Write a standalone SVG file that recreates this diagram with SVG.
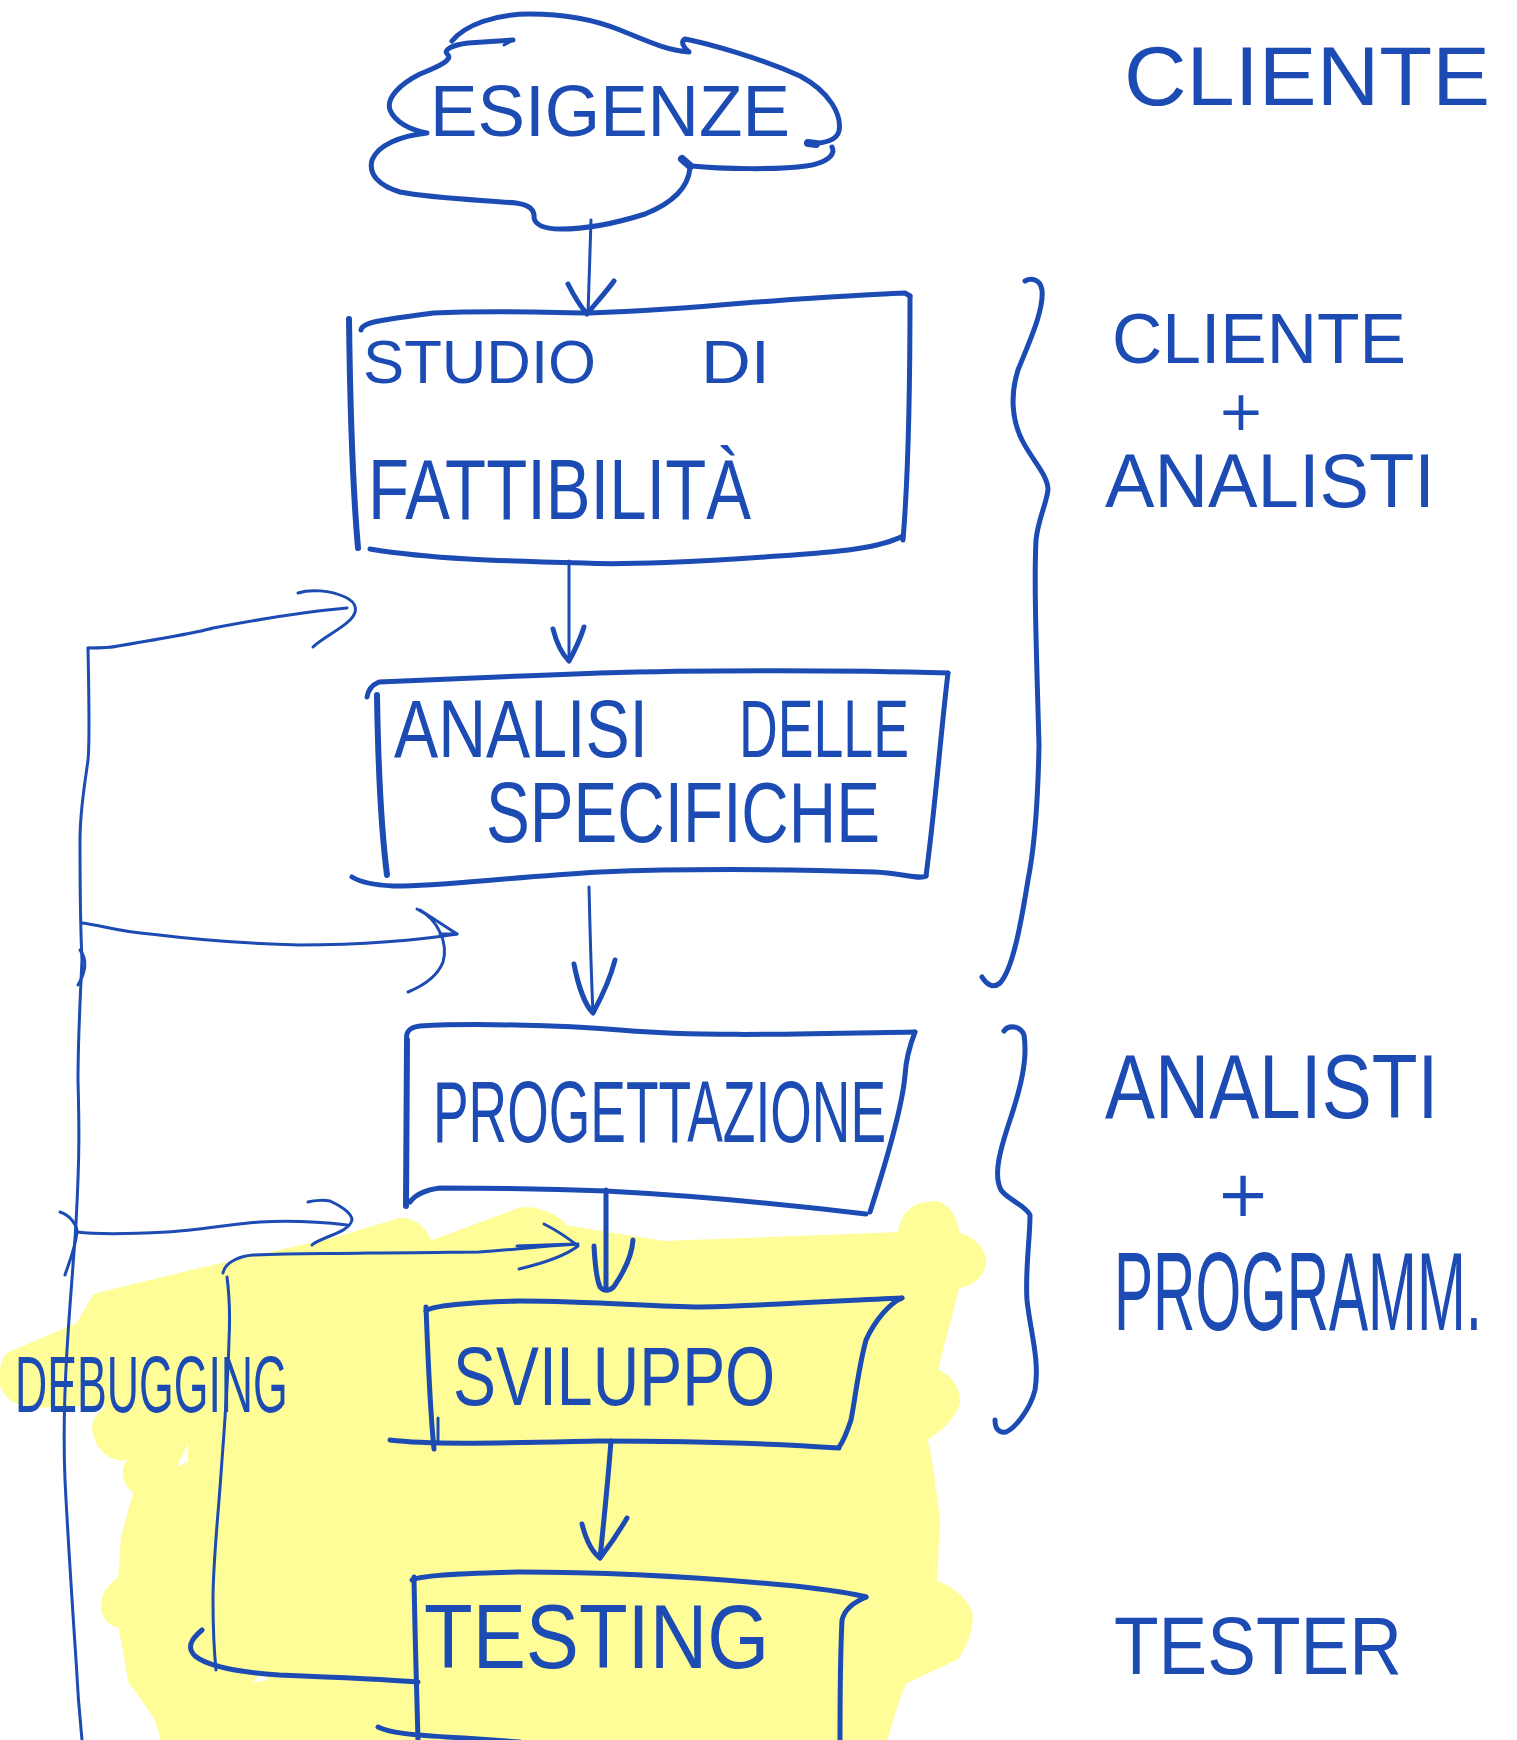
<svg xmlns="http://www.w3.org/2000/svg" width="1517" height="1740" viewBox="0 0 1517 1740">
<style>
.ink{fill:none;stroke:#1B4BB3;stroke-linecap:round;stroke-linejoin:round}
.w6{stroke-width:6}
.w5{stroke-width:5}
.w3{stroke-width:3}
.txt{fill:#1B4BB3;font-family:"Liberation Sans",Arial,sans-serif}
.plus{fill:#1B4BB3;font-family:"DejaVu Sans","Liberation Sans",sans-serif}
.hl{fill:#FEFD97;stroke:#FEFD97;stroke-width:10;stroke-linejoin:round}
</style>
<rect width="1517" height="1740" fill="#FFFFFF"/>
<g id="highlight">
<path class="hl" d="M3,1380 C5,1365 8,1358 10,1357 L80,1327 L97,1298 L200,1273 L333,1243 L400,1223 C415,1222 425,1235 428,1247 L520,1213 C535,1210 556,1218 564,1230 L663,1246 L902,1237 C905,1215 915,1206 935,1206 C948,1208 953,1222 955,1237 C970,1240 981,1250 981,1262 C980,1275 968,1282 955,1284 L932,1373 C945,1376 955,1388 955,1401 C953,1415 935,1430 922,1437 L928,1466 L935,1519 L932,1584 C950,1590 968,1605 968,1619 C966,1640 958,1650 955,1655 L902,1680 L895,1698 L882,1740 L166,1740 L159,1716 L133,1680 L123,1623 C110,1622 106,1616 106,1605 C106,1594 115,1585 123,1580 L126,1537 L139,1491 C130,1485 127,1478 128,1470 C130,1458 145,1450 170,1442 L167,1435 C150,1445 130,1458 118,1455 C105,1452 98,1440 97,1427 C98,1418 106,1412 112,1410 L107,1400 L33,1403 C18,1402 8,1395 3,1380 Z"/>
<path d="M177,1467 L188,1443 L188,1462 Z M252,1683 L262,1672 L268,1680 Z" fill="#FFFFFF"/>
</g>
<g id="connectors">
<path class="ink w3" d="M591,220 C590,250 589,285 588,314"/>
<path class="ink w5" d="M568,284 C574,296 581,307 587,314 C596,303 606,292 614,281"/>
<path class="ink w3" d="M569,561 C569,600 569,630 569,661"/>
<path class="ink w5" d="M553,629 C557,645 563,655 569,661 C575,650 580,640 584,627"/>
<path class="ink w3" d="M589,887 C590,930 591,970 593,1013"/>
<path class="ink w5" d="M574,964 C578,985 585,1005 593,1013 C600,1000 610,980 615,960"/>
<path class="ink w5" d="M606,1190 C606,1220 606,1260 606,1287"/>
<path class="ink w5" d="M594,1246 C595,1265 597,1280 600,1287 C605,1293 612,1290 615,1285 C625,1270 632,1255 633,1240"/>
<path class="ink w5" d="M611,1441 C608,1480 604,1520 600,1558"/>
<path class="ink w5" d="M582,1524 C586,1540 592,1552 600,1558 C610,1545 620,1530 627,1518"/>
<path class="ink w3" d="M88,648 C89,700 90,740 88,760 C84,790 80,810 80,840 C80,880 80,920 82,960 C80,1000 78,1040 78,1080 C79,1120 80,1150 76,1223 C73,1270 70,1300 67,1350 C64,1400 63,1433 65,1480 C68,1540 72,1600 76,1660 C78,1700 80,1720 82,1740"/>
<path class="ink w3" d="M88,648 C100,648 110,648 118,646 C160,639 200,632 213,628 C250,621 300,612 347,608"/>
<path class="ink w3" d="M298,593 C310,589 330,590 345,597 C358,603 358,612 350,620 C340,630 322,638 313,647"/>
<path class="ink w3" d="M82,923 C100,925 120,932 150,934 C200,940 250,944 300,945 C360,945 420,940 457,934"/>
<path class="ink w3" d="M417,909 C440,920 448,945 443,962 C438,975 425,985 408,992 M420,910 L457,934 L440,934"/>
<path class="ink w3" d="M80,950 C86,958 87,970 78,985"/>
<path class="ink w3" d="M77,1232 C100,1235 130,1234 167,1232 C200,1230 230,1224 260,1222 C300,1220 330,1223 347,1225"/>
<path class="ink w3" d="M308,1202 C315,1200 325,1200 330,1201 C345,1208 352,1215 352,1220 C350,1228 340,1232 330,1236 C320,1240 315,1242 312,1245"/>
<path class="ink w3" d="M60,1212 C70,1215 77,1225 77,1232 C75,1250 68,1265 65,1275"/>
<path class="ink w3" d="M223,1273 C225,1262 240,1256 253,1255 C300,1253 330,1254 367,1253 C420,1253 460,1252 479,1252 C510,1250 530,1247 578,1244"/>
<path class="ink w3" d="M544,1224 C556,1230 568,1238 578,1246 C565,1256 540,1264 519,1269 M517,1246 L574,1244"/>
<path class="ink w3" d="M227,1277 C230,1300 230,1320 229,1340 C228,1380 225,1420 222,1460 C218,1520 213,1560 213,1600 C213,1640 215,1660 216,1670"/>
<path class="ink w5" d="M202,1630 C190,1640 187,1648 195,1656 C210,1668 250,1673 279,1675 C330,1677 380,1679 418,1682"/>
</g>
<g id="node-esigenze">
<path class="ink w5" d="M452,41 C465,25 495,14 530,14 C560,14 590,18 620,30 C645,40 665,50 689,52 C684,48 680,42 685,39 C710,44 760,58 800,76 C830,92 842,115 839,131 C837,140 825,144 808,143"/>
<path class="ink w5" d="M513,40 L468,43 C452,45 442,50 448,55 C452,60 440,66 420,74 C400,84 386,98 390,110 C395,122 410,130 427,133 C400,136 378,145 372,160 C368,175 380,186 400,192 C430,198 480,200 516,203 C530,205 535,210 534,218 C536,226 545,229 560,229 C590,229 620,222 645,214 C670,204 688,190 690,168"/>
<path class="ink w5" d="M832,147 C836,155 826,163 806,166 C780,170 720,169 692,166"/>
<path class="ink" stroke-width="8" d="M682,159 L690,166 M808,143 L816,144"/>
<path class="ink w3" d="M504,45 L513,40"/>
<text class="txt" x="430" y="136" font-size="72" textLength="360" lengthAdjust="spacingAndGlyphs">ESIGENZE</text>
</g>
<g id="node-studio">
<path class="ink w5" d="M361,330 C362,322 380,320 433,313 C500,310 560,313 589,313 C650,311 700,307 744,303 C800,299 850,295 905,293 L910,296"/>
<path class="ink w5" d="M910,296 C910,380 908,480 903,540"/>
<path class="ink w5" d="M903,536 C880,548 840,552 778,556 C700,562 620,565 584,563 C500,561 430,559 370,549"/>
<path class="ink w6" d="M349,319 C350,400 352,480 358,548"/>
<text class="txt" y="383" font-size="62"><tspan x="363" textLength="233" lengthAdjust="spacingAndGlyphs">STUDIO</tspan><tspan x="701" textLength="69" lengthAdjust="spacingAndGlyphs">DI</tspan></text>
<text class="txt" transform="translate(368,519) scale(0.781,1)" x="0" y="0" font-size="86">FATTIBILITÀ</text>
</g>
<g id="node-analisi">
<path class="ink w5" d="M367,697 C368,690 372,685 379,682 C420,680 520,676 600,673 C700,670 850,670 948,673"/>
<path class="ink w5" d="M948,673 C940,740 936,800 926,876"/>
<path class="ink w5" d="M926,876 C920,880 900,873 875,872 C780,869 700,868 600,872 C500,878 430,887 393,886 C375,885 360,882 352,877"/>
<path class="ink w6" d="M377,695 C378,760 380,820 387,875"/>
<text class="txt" y="757" font-size="82"><tspan x="394" textLength="254" lengthAdjust="spacingAndGlyphs">ANALISI</tspan><tspan x="739" textLength="170" lengthAdjust="spacingAndGlyphs">DELLE</tspan></text>
<text class="txt" transform="translate(486,842) scale(0.7635,1)" x="0" y="0" font-size="86">SPECIFICHE</text>
</g>
<g id="node-progettazione">
<path class="ink w5" d="M407,1040 C405,1032 410,1027 420,1026 C470,1023 560,1025 620,1030 C700,1037 800,1034 915,1032"/>
<path class="ink w5" d="M915,1032 C910,1045 906,1058 905,1075 C903,1100 890,1150 870,1212"/>
<path class="ink w5" d="M866,1214 C800,1206 700,1196 606,1191 C530,1188 460,1188 440,1188 C425,1190 415,1195 410,1202"/>
<path class="ink w6" d="M407,1040 C407,1100 406,1160 406,1206"/>
<text class="txt" transform="translate(433,1142) scale(0.607,1)" x="0" y="0" font-size="88">PROGETTAZIONE</text>
</g>
<g id="node-sviluppo">
<path class="ink w5" d="M426,1311 C430,1306 470,1302 519,1301 C600,1301 650,1307 700,1307 C780,1305 850,1300 902,1298"/>
<path class="ink w5" d="M902,1298 C890,1303 875,1320 866,1340 C858,1370 855,1400 851,1420 C847,1432 843,1442 839,1447"/>
<path class="ink w5" d="M839,1448 C780,1444 700,1441 598,1441 C500,1443 430,1445 390,1440"/>
<path class="ink w5" d="M426,1307 C428,1360 430,1410 434,1449"/>
<path class="ink w3" d="M438,1418 L438,1443"/>
<text class="txt" transform="translate(453,1405) scale(0.767,1)" x="0" y="0" font-size="84">SVILUPPO</text>
</g>
<g id="node-testing">
<path class="ink w5" d="M412,1580 C414,1576 470,1573 519,1572 C600,1572 700,1577 795,1586 C830,1590 855,1594 866,1597"/>
<path class="ink w5" d="M866,1597 C855,1602 845,1608 842,1620 C840,1660 840,1700 840,1740"/>
<path class="ink w5" d="M414,1577 C415,1640 417,1700 418,1740"/>
<path class="ink w5" d="M378,1727 C390,1733 410,1735 464,1738 L520,1742"/>
<text class="txt" transform="translate(424,1668) scale(0.885,1)" x="0" y="0" font-size="90">TESTING</text>
</g>
<g id="label-debugging">
<text class="txt" transform="translate(15,1412) scale(0.558,1)" x="0" y="0" font-size="80">DEBUGGING</text>
</g>
<g id="roles">
<text class="txt" x="1124" y="105" font-size="84" textLength="366" lengthAdjust="spacingAndGlyphs">CLIENTE</text>
<path class="ink w5" d="M1025,281 C1030,278 1040,278 1042,290 C1044,310 1030,340 1018,370 C1010,395 1012,420 1022,440 C1032,460 1048,475 1048,490 C1046,505 1038,520 1036,540 C1034,580 1036,640 1039,745 C1038,800 1034,850 1028,880 C1020,930 1012,970 1000,983 C992,990 985,982 982,977"/>
<text class="txt" x="1112" y="363" font-size="70" textLength="294" lengthAdjust="spacingAndGlyphs">CLIENTE</text>
<text class="plus" x="1241" y="430" font-size="56" text-anchor="middle">+</text>
<text class="txt" x="1105" y="507" font-size="76" textLength="330" lengthAdjust="spacingAndGlyphs">ANALISTI</text>
<path class="ink w5" d="M1004,1031 C1008,1025 1020,1025 1024,1035 C1028,1060 1020,1090 1010,1120 C1000,1150 993,1175 1001,1190 C1008,1200 1025,1205 1030,1215 C1030,1240 1025,1270 1027,1300 C1030,1330 1040,1360 1035,1390 C1030,1410 1015,1428 1006,1432 C998,1433 995,1428 995,1420"/>
<text class="txt" transform="translate(1105,1118) scale(0.833,1)" x="0" y="0" font-size="90">ANALISTI</text>
<text class="plus" x="1243" y="1216" font-size="64" text-anchor="middle">+</text>
<text class="txt" transform="translate(1114,1330) scale(0.5235,1)" x="0" y="0" font-size="112">PROGRAMM.</text>
<text class="txt" transform="translate(1114,1674) scale(0.89,1)" x="0" y="0" font-size="82">TESTER</text>
</g>
</svg>
